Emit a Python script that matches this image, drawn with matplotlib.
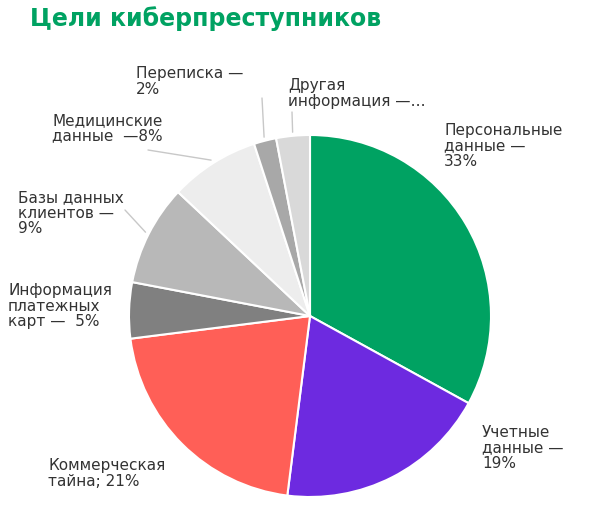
import numpy as np
import matplotlib.pyplot as plt

labels = ['Персональные\nданные —\n33%', 'Учетные\nданные —\n19%', 'Коммерческая\nтайна; 21%',
          'Информация\nплатежных\nкарт —  5%', 'Базы данных\nклиентов —\n9%',
          'Медицинские\nданные  —8%', 'Переписка —\n2%', 'Другая\nинформация —…']
values = [33, 19, 21, 5, 9, 8, 2, 3]
colors = ['#00a262', '#6d2ae0', '#ff5f57', '#808080', '#b8b8b8', '#ededed', '#a8a8a8', '#d9d9d9']
# text anchor (left, top) in pixels of a 597x518 image
text_pos = [(444, 123), (482, 425), (48, 458), (8, 283), (18, 190), (52, 113), (136, 66), (288, 78)]
align = ['left', 'left', 'left', 'left', 'left', 'left', 'left', 'left']

W, H = 597, 518
fig = plt.figure(figsize=(W / 100, H / 100), dpi=100)
cx, cy, r = 310, 316, 181
ax = fig.add_axes([(cx - r) / W, (H - cy - r) / H, 2 * r / W, 2 * r / H])
wedges, _ = ax.pie(values, colors=colors, startangle=90, counterclock=False,
                   wedgeprops=dict(edgecolor='white', linewidth=1.5))
ax.set_xlim(-1, 1)
ax.set_ylim(-1, 1)

fig.text(30 / W, 1 - 6 / H, 'Цели киберпреступников', color='#00a262', fontsize=17,
         fontweight='bold', va='top', ha='left')

for w, lab, (tx, ty) in zip(wedges, labels, text_pos):
    ang = np.deg2rad((w.theta1 + w.theta2) / 2)
    fig.text(tx / W, 1 - ty / H, lab, fontsize=11, color='#333333', va='top', ha='left',
             linespacing=1.05)

# leader lines (edge of slice -> label)
lines = [(2, (265, 112)), (4, (180, 152)), (5, (300, 122)), (6, (295, 115))]
leader_idx = {7: (292, 112), 6: (262, 98), 5: (148, 150), 4: (125, 210)}
for i, (px, py) in leader_idx.items():
    w = wedges[i]
    ang = np.deg2rad((w.theta1 + w.theta2) / 2)
    x0, y0 = np.cos(ang) * 1.02, np.sin(ang) * 1.02
    ax.annotate('', xy=(x0, y0), xytext=(px / W, 1 - py / H), textcoords='figure fraction',
                arrowprops=dict(arrowstyle='-', color='#c8c8c8', lw=1, shrinkA=0, shrinkB=0),
                annotation_clip=False)

fig.savefig('out.png', dpi=100)
